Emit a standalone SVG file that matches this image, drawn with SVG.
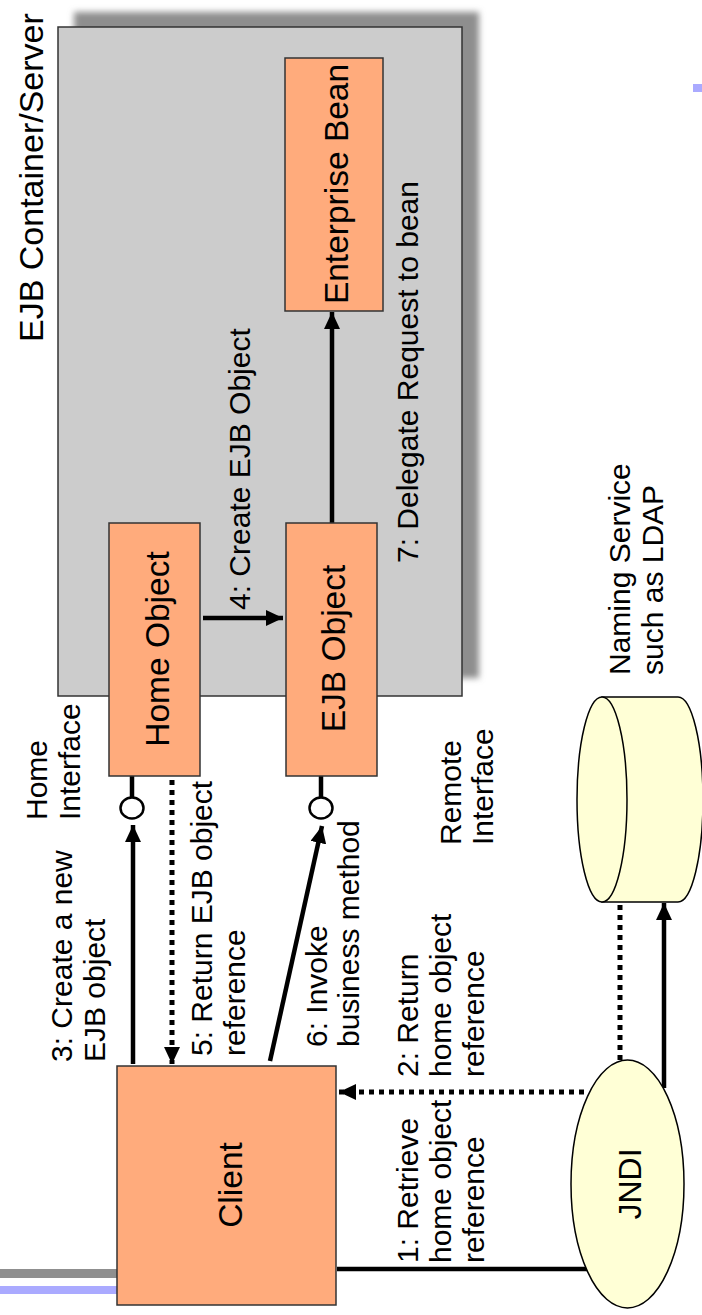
<svg xmlns="http://www.w3.org/2000/svg" width="702" height="1315" viewBox="0 0 702 1315">
<style>
text{font-family:"Liberation Sans",Arial,sans-serif;fill:#000}
.node{fill:#ffab7c;stroke:#333;stroke-width:1.5}
.big{font-size:33.5px}
.lbl{font-size:30px}
.ln{stroke:#000;stroke-width:4.5;fill:none}
.dot{stroke:#000;stroke-width:5;fill:none;stroke-dasharray:5 5}
.yel{fill:#ffffd6;stroke:#000;stroke-width:1.5}
</style>
<defs>
<filter id="blur" x="-10%" y="-10%" width="120%" height="120%"><feGaussianBlur stdDeviation="3"/></filter>
<marker id="ah" markerUnits="userSpaceOnUse" markerWidth="18" markerHeight="16" refX="17" refY="8" orient="auto"><path d="M0,0 L17,8 L0,16 Z" fill="#000"/></marker>
</defs>
<rect width="702" height="1315" fill="#fff"/>
<rect x="693" y="84" width="9" height="8" fill="#aaaaff"/>
<rect x="0" y="1269" width="118" height="9" fill="#8f8f8f"/>
<rect x="0" y="1286" width="118" height="8" fill="#aaaaff"/>

<g id="container">
<rect x="74" y="12" width="405" height="666" fill="#8e8e8e" filter="url(#blur)"/>
<rect x="58" y="27" width="404" height="669" fill="#cccccc" stroke="#333" stroke-width="1.5"/>
<text class="big" font-size="34" transform="translate(43,342) rotate(-90)" style="font-size:34px">EJB Container/Server</text>
</g>

<g id="connectors">
<line class="ln" x1="203" y1="618" x2="283" y2="618" marker-end="url(#ah)"/>
<line class="ln" x1="332" y1="523" x2="332" y2="312" marker-end="url(#ah)"/>
<line class="ln" x1="132" y1="776" x2="132" y2="798"/>
<line class="ln" x1="321" y1="776" x2="321" y2="798"/>
<line class="ln" x1="133" y1="1064" x2="133" y2="825" marker-end="url(#ah)"/>
<line class="dot" x1="172" y1="780" x2="172" y2="1064" marker-end="url(#ah)"/>
<line class="ln" x1="270" y1="1061" x2="322" y2="826" marker-end="url(#ah)"/>
<line class="dot" x1="584" y1="1092" x2="339" y2="1092" marker-end="url(#ah)"/>
<line class="ln" x1="337" y1="1269" x2="588" y2="1269"/>
<line class="dot" x1="620" y1="905" x2="620" y2="1061"/>
<line class="ln" x1="664" y1="1088" x2="664" y2="903" marker-end="url(#ah)"/>
<ellipse cx="132" cy="808" rx="11.5" ry="10.5" fill="#fff" stroke="#000" stroke-width="2.5"/>
<ellipse cx="321" cy="808" rx="11.5" ry="10.5" fill="#fff" stroke="#000" stroke-width="2.5"/>
</g>

<g id="enterprise-bean">
<rect class="node" x="285" y="58" width="98" height="253"/>
<text class="big" text-anchor="middle" transform="translate(348,184) rotate(-90)">Enterprise Bean</text>
</g>
<g id="home-object">
<rect class="node" x="109" y="523" width="91" height="253"/>
<text class="big" text-anchor="middle" transform="translate(169,649) rotate(-90)">Home Object</text>
</g>
<g id="ejb-object">
<rect class="node" x="286" y="523" width="91" height="253"/>
<text class="big" text-anchor="middle" transform="translate(345,648.5) rotate(-90)">EJB Object</text>
</g>
<g id="client">
<rect class="node" x="117" y="1066" width="219" height="239"/>
<text class="big" text-anchor="middle" transform="translate(242,1185) rotate(-90)">Client</text>
</g>
<g id="naming-service">
<path class="yel" d="M602,697 L678,697 A25,102.5 0 0 1 678,902 L602,902 Z"/>
<ellipse class="yel" cx="602" cy="799.5" rx="25" ry="102.5"/>
<text class="lbl" transform="translate(630,675) rotate(-90)"><tspan x="0" y="0">Naming Service</tspan><tspan x="0" y="33">such as LDAP</tspan></text>
</g>
<g id="jndi">
<ellipse class="yel" cx="627.5" cy="1184" rx="56.5" ry="124"/>
<text text-anchor="middle" style="font-size:32px" transform="translate(641,1184) rotate(-90)">JNDI</text>
</g>

<g id="labels">
<text class="lbl" transform="translate(250,610) rotate(-90)">4: Create EJB Object</text>
<text class="lbl" transform="translate(418,563) rotate(-90)">7: Delegate Request to bean</text>
<text class="lbl" transform="translate(47,820) rotate(-90)"><tspan x="0" y="0">Home</tspan><tspan x="0" y="33">Interface</tspan></text>
<text class="lbl" transform="translate(72,1062) rotate(-90)"><tspan x="0" y="0">3: Create a new</tspan><tspan x="0" y="33">EJB object</tspan></text>
<text class="lbl" transform="translate(212,1056) rotate(-90)"><tspan x="0" y="0">5: Return EJB object</tspan><tspan x="0" y="33">reference</tspan></text>
<text class="lbl" transform="translate(327,1047) rotate(-90)"><tspan x="0" y="0">6: Invoke</tspan><tspan x="0" y="32">business method</tspan></text>
<text class="lbl" transform="translate(461,845) rotate(-90)"><tspan x="0" y="0">Remote</tspan><tspan x="0" y="32">Interface</tspan></text>
<text class="lbl" transform="translate(418,1077) rotate(-90)"><tspan x="0" y="0">2: Return</tspan><tspan x="0" y="33">home object</tspan><tspan x="0" y="66">reference</tspan></text>
<text class="lbl" transform="translate(418,1263) rotate(-90)"><tspan x="0" y="0">1: Retrieve</tspan><tspan x="0" y="33">home object</tspan><tspan x="0" y="66">reference</tspan></text>
</g>
</svg>
